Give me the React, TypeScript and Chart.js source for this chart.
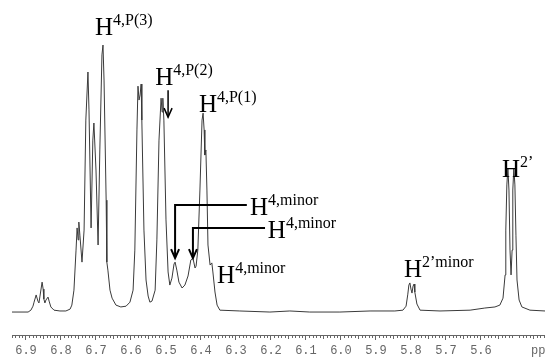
import React, { useEffect, useRef } from "react";
import { Chart, registerables } from "chart.js";

Chart.register(...registerables);

// Chemical shift (ppm) and intensity (relative, tallest = 100)
const ppm = [
  6.94, 6.894, 6.886, 6.88, 6.877, 6.871, 6.866, 6.863, 6.86, 6.854, 6.851, 6.849, 6.846, 6.843, 6.837, 6.834,
  6.829, 6.82, 6.803, 6.786, 6.774, 6.769, 6.763, 6.757, 6.754, 6.751, 6.749, 6.746, 6.74, 6.734, 6.729, 6.723,
  6.72, 6.714, 6.709, 6.706, 6.7, 6.694, 6.689, 6.683, 6.68, 6.677, 6.671, 6.669, 6.666, 6.66, 6.654, 6.643,
  6.629, 6.614, 6.603, 6.594, 6.589, 6.583, 6.58, 6.577, 6.574, 6.571, 6.569, 6.563, 6.557, 6.551, 6.546, 6.54,
  6.531, 6.526, 6.52, 6.514, 6.511, 6.509, 6.506, 6.5, 6.494, 6.489, 6.483, 6.477, 6.474, 6.469, 6.463, 6.454,
  6.446, 6.437, 6.429, 6.423, 6.417, 6.414, 6.409, 6.403, 6.397, 6.394, 6.391, 6.389, 6.386, 6.383, 6.38, 6.374,
  6.369, 6.366, 6.36, 6.354, 6.346, 6.289, 6.203, 6.146, 6.089, 6.003, 5.917, 5.846, 5.823, 5.814, 5.809, 5.806,
  5.803, 5.8, 5.797, 5.794, 5.791, 5.789, 5.783, 5.774, 5.717, 5.631, 5.589, 5.56, 5.546, 5.537, 5.531, 5.529,
  5.526, 5.523, 5.52, 5.517, 5.514, 5.511, 5.509, 5.506, 5.503, 5.5, 5.497, 5.491, 5.483, 5.46, 5.417,
];
const intensity = [
  0, 0, 0.7, 2.2, 3.7, 6.4, 4.1, 3.4, 6.0, 11.2, 8.6, 4.9, 3.4, 4.5, 5.6, 4.1,
  1.9, 0.7, 0.4, 0.4, 1.1, 2.6, 8.2, 23.2, 31.5, 27.0, 33.7, 28.8, 18.7, 30.7, 71.9, 89.9,
  75.7, 31.5, 64.4, 70.8, 53.2, 25.1, 60.7, 96.3, 100, 86.9, 41.9, 18.7, 15.7, 8.2, 5.2, 2.6,
  1.9, 2.2, 3.7, 8.2, 23.2, 68.2, 84.6, 79.4, 81.3, 85.4, 71.9, 30.7, 12.0, 6.0, 3.7, 4.1,
  8.2, 27.0, 64.4, 80.1, 74.9, 80.1, 71.9, 34.5, 15.0, 10.1, 12.7, 18.0, 18.7, 15.7, 11.2, 9.0,
  10.1, 13.5, 19.5, 20.2, 16.5, 17.2, 23.2, 45.7, 71.9, 74.5, 68.2, 58.8, 60.7, 45.7, 25.1, 17.6,
  18.4, 15.0, 7.5, 2.6, 0.7, 0.4, 0, 0.4, 0, 0, 0.4, 0.4, 0.7, 2.2, 6.7, 10.1,
  10.9, 8.6, 7.1, 9.7, 10.5, 7.5, 3.0, 0.7, 0.4, 0.7, 1.5, 1.9, 2.6, 5.2, 13.9, 30.7,
  47.6, 53.9, 45.7, 23.2, 13.9, 23.2, 45.7, 53.9, 47.6, 28.8, 12.0, 4.5, 1.9, 0.7, 0.4,
];

// Axis tick labels (ppm)
const majorTicks = [6.9, 6.8, 6.7, 6.6, 6.5, 6.4, 6.3, 6.2, 6.1, 6.0, 5.9, 5.8, 5.7, 5.6];

// Peak annotations: main letter, superscript, anchor (ppm, intensity) of the letter's baseline-left
const annText = ["H", "H", "H", "H", "H", "H", "H", "H"];
const annSup = ["4,P(3)", "4,P(2)", "4,P(1)", "4,minor", "4,minor", "4,minor", "2\u2019minor", "2\u2019"];
const annPpm = [6.703, 6.531, 6.406, 6.26, 6.209, 6.354, 5.82, 5.54];
const annInt = [103.7, 85.0, 74.9, 36.3, 27.7, 10.9, 13.1, 50.6];

// Arrows: polylines in (ppm, intensity), last point is the arrow tip
const arrowPaths: [number, number][][] = [
  [[6.494, 83.1], [6.494, 73.0]],
  [[6.269, 40.1], [6.474, 40.1], [6.474, 20.2]],
  [[6.217, 31.5], [6.423, 31.5], [6.423, 20.2]],
];
const arrowWidths = [1.5, 2, 2];

const annotatePlugin = {
  id: "annotate",
  afterDraw(chart: any) {
    const { ctx, scales } = chart;
    const xs = scales.x;
    const ys = scales.y;
    const bottom = chart.chartArea.bottom;
    ctx.save();
    // minor ticks every 0.01 ppm
    ctx.strokeStyle = "#666";
    ctx.lineWidth = 1;
    ctx.beginPath();
    for (let i = 542; i <= 694; i++) {
      if (i % 10 === 0) continue;
      const px = Math.round(xs.getPixelForValue(i / 100)) + 0.5;
      ctx.moveTo(px, bottom);
      ctx.lineTo(px, bottom + (i % 5 === 0 ? 4 : 3));
    }
    ctx.stroke();

    // truncated unit label
    ctx.font = '12px "Liberation Mono"';
    ctx.fillStyle = "#666";
    ctx.textBaseline = "middle";
    ctx.textAlign = "left";
    ctx.fillText("ppm", chart.chartArea.right - 14, bottom + 16);

    // arrows
    ctx.strokeStyle = "#000";
    ctx.fillStyle = "#000";
    arrowPaths.forEach((path, k) => {
      ctx.lineWidth = arrowWidths[k];
      ctx.beginPath();
      path.forEach(([p, v], j) => {
        const px = xs.getPixelForValue(p);
        const py = ys.getPixelForValue(v);
        if (j === 0) ctx.moveTo(px, py);
        else ctx.lineTo(px, py);
      });
      ctx.stroke();
      const [tp, tv] = path[path.length - 1];
      const tx = xs.getPixelForValue(tp);
      const ty = ys.getPixelForValue(tv);
      ctx.beginPath();
      ctx.moveTo(tx - 4, ty - 9);
      ctx.lineTo(tx, ty);
      ctx.lineTo(tx + 4, ty - 9);
      ctx.stroke();
    });

    // labels
    ctx.textBaseline = "alphabetic";
    annText.forEach((t, k) => {
      const px = xs.getPixelForValue(annPpm[k]);
      const py = ys.getPixelForValue(annInt[k]);
      ctx.font = '25px "Liberation Serif"';
      ctx.fillStyle = "#000";
      ctx.fillText(t, px, py);
      const w = ctx.measureText(t).width;
      ctx.font = '16px "Liberation Serif"';
      ctx.fillText(annSup[k], px + w, py - 10);
    });
    ctx.restore();
  },
};

export default function App() {
  const ref = useRef<HTMLCanvasElement | null>(null);
  useEffect(() => {
    if (!ref.current) return;
    const chart = new Chart(ref.current, {
      type: "line",
      data: {
        datasets: [
          {
            data: ppm.map((p, i) => ({ x: p, y: intensity[i] })),
            borderColor: "#3a3a3a",
            borderWidth: 1,
            pointRadius: 0,
            tension: 0,
            fill: false,
          },
        ],
      },
      options: {
        animation: false,
        responsive: false,
        events: [],
        layout: { padding: { left: 12, right: 0, top: 5, bottom: 0 } },
        plugins: { legend: { display: false }, tooltip: { enabled: false } },
        scales: {
          x: {
            type: "linear",
            reverse: true,
            min: 5.417,
            max: 6.94,
            afterBuildTicks: (s: any) => {
              s.ticks = majorTicks.map((v) => ({ value: v }));
            },
            afterFit: (s: any) => {
              s.height = 25;
            },
            ticks: {
              callback: (v: any) => Number(v).toFixed(1),
              font: { family: "Liberation Mono", size: 12 },
              color: "#666",
              maxRotation: 0,
              autoSkip: false,
              padding: 4,
            },
            grid: { drawOnChartArea: false, drawTicks: true, tickLength: 5, tickColor: "#666", color: "#666" },
            border: { display: true, color: "#666", width: 1 },
          },
          y: { display: false, min: -8.6, max: 115 },
        },
      },
      plugins: [annotatePlugin],
    } as any);
    return () => chart.destroy();
  }, []);
  return (
    <div style={{ position: "fixed", left: 0, top: 0, width: 545, height: 360, background: "#fff" }}>
      <canvas ref={ref} width={545} height={360} />
    </div>
  );
}
